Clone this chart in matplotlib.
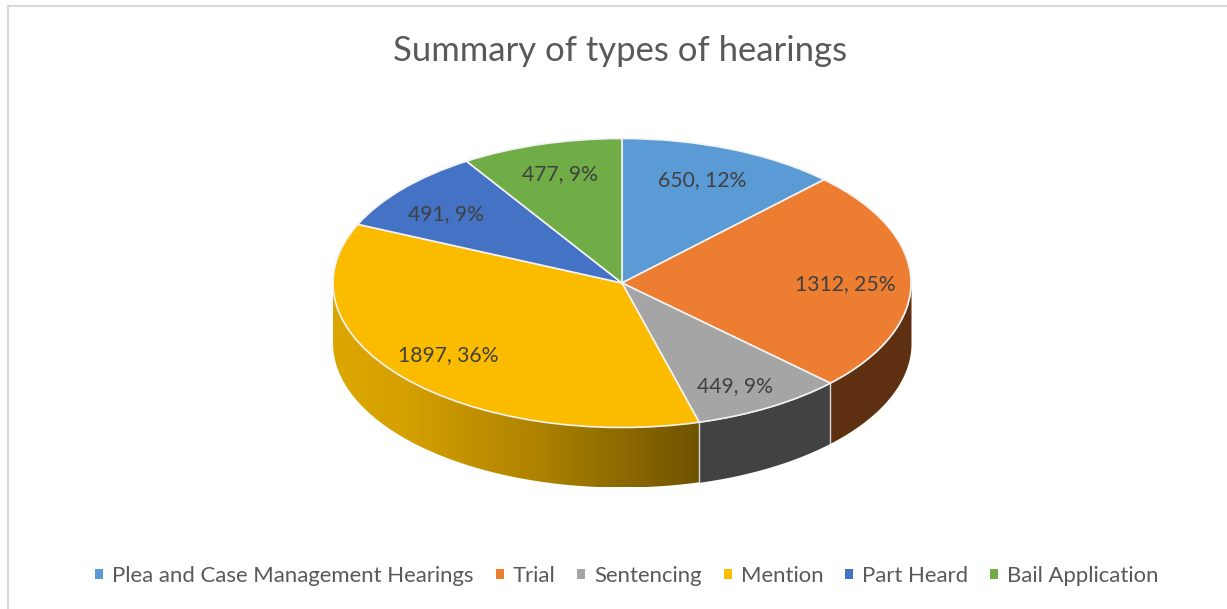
import numpy as np
import matplotlib
matplotlib.use("Agg")
import matplotlib.pyplot as plt
from matplotlib.colors import to_rgb
from matplotlib.lines import Line2D
from matplotlib.patches import Patch, Polygon

W, H = 1227, 609
CX, CY, RX, RY = 622, 283, 289, 144.5  # ellipse of the pie top, in pixels
DEPTH = 60 / RY

categories = ["Plea and Case Management Hearings", "Trial", "Sentencing",
              "Mention", "Part Heard", "Bail Application"]
values = [650, 1312, 449, 1897, 491, 477]
percents = [12, 25, 9, 36, 9, 9]

colors = ["#5B9BD5", "#ED7D31", "#A5A5A5", "#FBBC00", "#4472C4", "#70AD47"]
wall_colors = {1: "#5E2F10", 2: "#424242"}
# gradient of the yellow wall, left to right
wall_grad_x = [-1.0, -0.75, -0.3, 0.27]
wall_grad_c = ["#DDA700", "#D5A000", "#AE8300", "#6E5300"]

# label centres in pixels
label_px = [(702, 180), (845, 284), (735, 386), (448, 355), (446, 214), (560, 174)]

plt.rcParams["font.family"] = ["Lato", "DejaVu Sans"]

fig = plt.figure(figsize=(W / 100, H / 100), dpi=100, facecolor="white")
ax = fig.add_axes([0, 0, 1, 1])

wedges, _ = ax.pie(values, startangle=90, counterclock=False, radius=1,
                   colors=colors, wedgeprops=dict(edgecolor="#F2F2F2", linewidth=1.2))
for w in wedges:
    w.set_zorder(3)
ax.set_aspect("auto")

# side wall, only the front half of the ellipse shows
bounds = np.cumsum([0] + values) / sum(values) * 360
grad_rgb = np.array([to_rgb(c) for c in wall_grad_c])
for i in range(len(values)):
    a0, a1 = bounds[i], min(bounds[i + 1], 270)
    a0 = max(a0, 90)
    if a1 <= a0:
        continue
    ang = np.radians(np.linspace(a0, a1, 200))
    x = np.sin(ang)
    top = np.cos(ang)
    if i in wall_colors:
        ax.fill_between(x, top - DEPTH, top, color=wall_colors[i], lw=0, zorder=1)
    else:
        xs = np.linspace(x.min(), x.max(), 400)
        grad = np.stack([np.interp(xs, wall_grad_x, grad_rgb[:, j]) for j in range(3)], axis=-1)
        im = ax.imshow(grad[np.newaxis, :, :], aspect="auto", zorder=1, interpolation="bilinear",
                       extent=(x.min(), x.max(), top.min() - DEPTH, top.max()))
        outline = np.vstack([np.column_stack([x, top]),
                             np.column_stack([x[::-1], top[::-1] - DEPTH])])
        im.set_clip_path(Polygon(outline, transform=ax.transData))
    if i in (2, 3):
        # light seam on the wall at the slice boundary
        ax.plot([x[0], x[0]], [top[0], top[0] - DEPTH], color="#D8D8D8", lw=1, zorder=2)

ax.set_xlim((0 - CX) / RX, (W - CX) / RX)
ax.set_ylim((CY - H) / RY, CY / RY)
ax.axis("off")

for v, p, (px, py) in zip(values, percents, label_px):
    ax.text((px - CX) / RX, (CY - py) / RY, f"{v}, {p}%", ha="center", va="center",
            fontsize=15.2, color="#404040", zorder=4)

fig.text(620.5 / W, 1 - 51 / H, "Summary of types of hearings", ha="center", va="center",
         fontsize=24.9, color="#595959")

handles = [Patch(facecolor=c, edgecolor="none") for c in colors]
fig.legend(handles, categories, loc="center", bbox_to_anchor=(627 / W, 1 - 576 / H),
           ncols=6, frameon=False, fontsize=15.9, labelcolor="#595959",
           handlelength=0.36, handleheight=0.36, handletextpad=0.4, columnspacing=1.0,
           borderpad=0)

# chart frame, bottom edge is cropped off
fig.add_artist(Line2D([8 / W, 8 / W], [0, 1 - 6 / H], color="#D9D9D9", lw=1.5))
fig.add_artist(Line2D([8 / W, 1], [1 - 6 / H, 1 - 6 / H], color="#D9D9D9", lw=1.5))

fig.savefig("out.png", dpi=100, facecolor="white")
